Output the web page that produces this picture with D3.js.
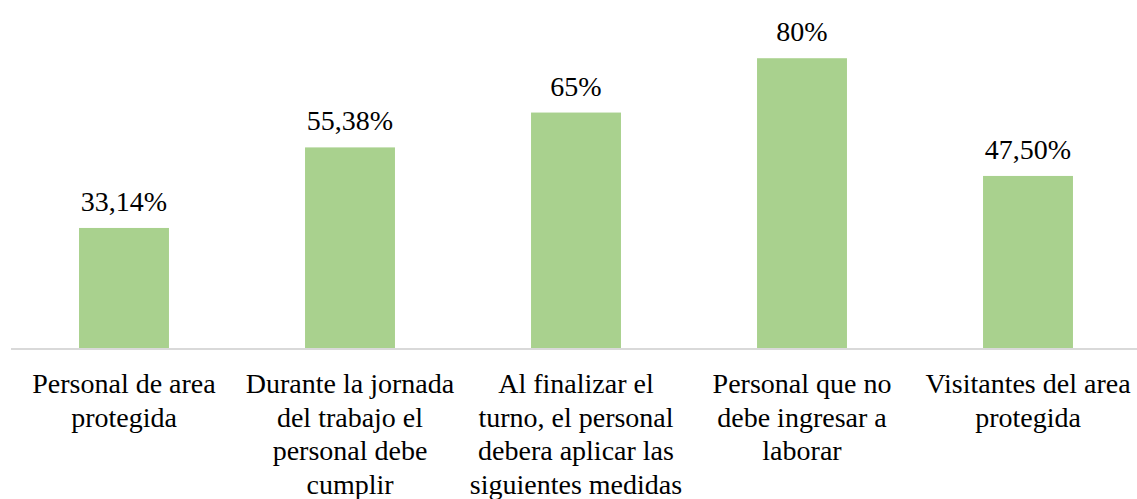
<!DOCTYPE html>
<html>
<head>
<meta charset="utf-8">
<script src="https://cdn.jsdelivr.net/npm/d3@7"></script>
<style>
  body { margin: 0; background: #fff; }
  svg { display: block; }
</style>
</head>
<body>
<div id="chart"></div>
<script>
// categories, one entry per bar, already split into the lines shown under the axis
var categories = [
    ["Personal de area", "protegida"],
    ["Durante la jornada", "del trabajo el", "personal debe", "cumplir"],
    ["Al finalizar el", "turno, el personal", "debera aplicar las", "siguientes medidas"],
    ["Personal que no", "debe ingresar a", "laborar"],
    ["Visitantes del area", "protegida"]
];
var values = [33.14, 55.38, 65, 80, 47.5];
var valueLabels = ["33,14%", "55,38%", "65%", "80%", "47,50%"];

var width = 1137, height = 499;
var margin = {top: 22, right: -4, bottom: 151, left: 11};
var serif = "'Liberation Serif', 'DejaVu Serif', serif";

var svg = d3.select("#chart").append("svg")
    .attr("width", width)
    .attr("height", height);

var x = d3.scaleBand()
    .domain(d3.range(values.length))
    .range([margin.left, width - margin.right])
    .paddingInner(0.602)
    .paddingOuter(0.301);

var y = d3.scaleLinear()
    .domain([0, 90])
    .range([height - margin.bottom, margin.top]);

// bars
svg.selectAll(".bar")
    .data(values)
    .enter().append("rect")
    .attr("class", "bar")
    .attr("x", function(d, i){ return x(i); })
    .attr("y", function(d){ return y(d); })
    .attr("width", x.bandwidth())
    .attr("height", function(d){ return y(0) - y(d); })
    .attr("fill", "#a9d18e");

// baseline
svg.append("line")
    .attr("x1", margin.left)
    .attr("x2", width)
    .attr("y1", y(0) + 1)
    .attr("y2", y(0) + 1)
    .attr("stroke", "#d9d9d9")
    .attr("stroke-width", 2);

// value labels
svg.selectAll(".val")
    .data(values)
    .enter().append("text")
    .attr("class", "val")
    .attr("x", function(d, i){ return x(i) + x.bandwidth() / 2; })
    .attr("y", function(d){ return y(d) - 17; })
    .attr("text-anchor", "middle")
    .attr("font-family", serif)
    .attr("font-size", 28)
    .attr("fill", "#000")
    .text(function(d, i){ return valueLabels[i]; });

// category labels
var cat = svg.selectAll(".cat")
    .data(categories)
    .enter().append("text")
    .attr("class", "cat")
    .attr("text-anchor", "middle")
    .attr("font-family", serif)
    .attr("font-size", 28)
    .attr("fill", "#000");

cat.selectAll("tspan")
    .data(function(d, i){ return d.map(function(l){ return {line: l, i: i}; }); })
    .enter().append("tspan")
    .attr("x", function(d){ return x(d.i) + x.bandwidth() / 2; })
    .attr("y", function(d, j){ return y(0) + 45 + j * 33.5; })
    .text(function(d){ return d.line; });
</script>
</body>
</html>
